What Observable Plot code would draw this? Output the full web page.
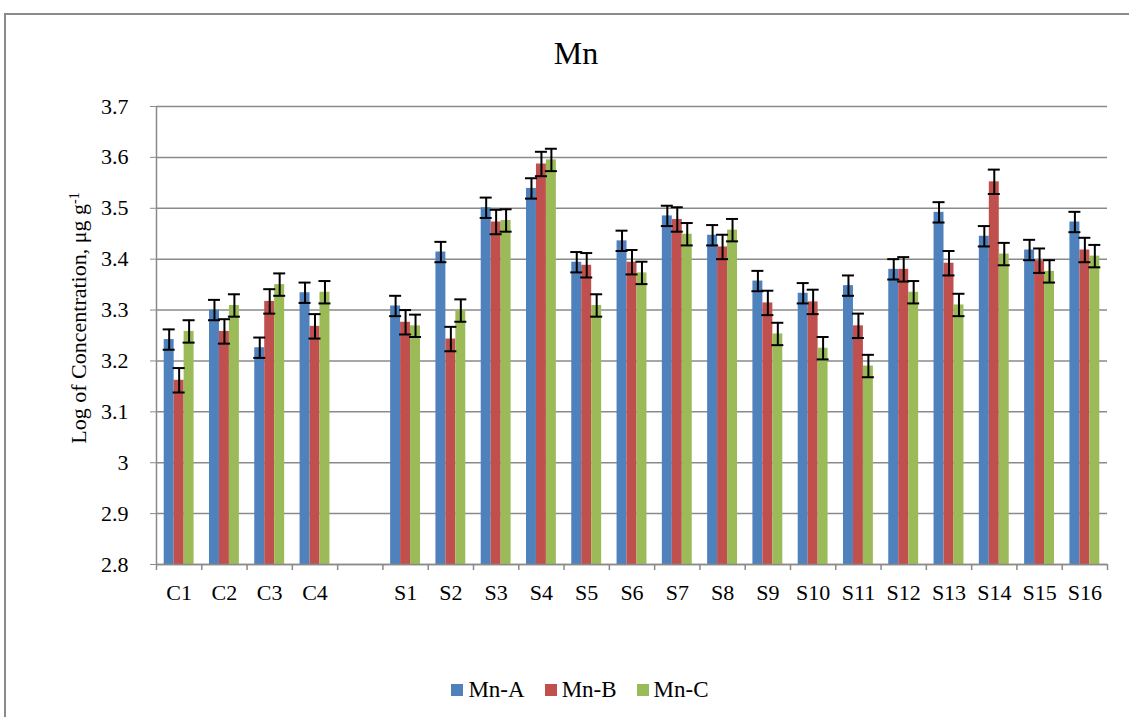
<!DOCTYPE html>
<html><head><meta charset="utf-8">
<script src="https://cdn.jsdelivr.net/npm/d3@7"></script>
<script src="https://cdn.jsdelivr.net/npm/@observablehq/plot@0.6"></script>
<style>
html,body{margin:0;padding:0;background:#fff;overflow:hidden;}
#wrap{position:relative;width:1129px;height:717px;font-family:"Liberation Serif","Times New Roman",serif;color:#000;}
#frame{position:absolute;left:4px;top:13px;width:1200px;height:800px;border:2px solid #8a8a8a;box-sizing:border-box;}
#title{position:absolute;left:0;width:1152px;top:37px;text-align:center;font-size:32px;line-height:32px;}
#chart{position:absolute;left:0;top:0;}
#legend{position:absolute;left:0;width:1160px;top:678px;display:flex;justify-content:center;font-size:23px;line-height:23px;}
.item{display:flex;align-items:center;margin:0 10px;}
.sw{width:12px;height:12px;margin-right:5px;}
</style></head>
<body>
<div id="wrap">
  <div id="frame"></div>
  <div id="chart"></div>
  <div id="title">Mn</div>
  <div id="legend"></div>
</div>
<script>
// ---- data ----
const controls = ["C1","C2","C3","C4"];
const samples = ["S1","S2","S3","S4","S5","S6","S7","S8","S9","S10","S11","S12","S13","S14","S15","S16"];
const categories = [...controls, ...samples];
const slots = [...controls, "", ...samples]; // blank slot between groups
const seriesNames = ["Mn-A","Mn-B","Mn-C"];
const seriesColors = ["#4F81BD","#C0504D","#9BBB59"];
const mnA = [3.242,3.300,3.226,3.334, 3.308,3.414,3.501,3.539,3.394,3.436,3.485,3.447,3.357,3.333,3.348,3.380,3.492,3.445,3.418,3.473];
const mnB = [3.162,3.258,3.317,3.268, 3.276,3.243,3.473,3.587,3.388,3.394,3.478,3.424,3.314,3.316,3.269,3.380,3.392,3.552,3.397,3.418];
const mnC = [3.258,3.309,3.350,3.335, 3.269,3.299,3.476,3.595,3.309,3.373,3.449,3.457,3.253,3.225,3.190,3.335,3.310,3.410,3.376,3.406];
const errA = [0.020,0.020,0.020,0.020, 0.020,0.020,0.020,0.020,0.020,0.020,0.020,0.020,0.020,0.020,0.020,0.020,0.020,0.020,0.020,0.020];
const errB = [0.024,0.024,0.024,0.024, 0.024,0.024,0.024,0.024,0.024,0.024,0.024,0.024,0.024,0.024,0.024,0.024,0.024,0.024,0.024,0.024];
const errC = [0.022,0.022,0.022,0.022, 0.022,0.022,0.022,0.022,0.022,0.022,0.022,0.022,0.022,0.022,0.022,0.022,0.022,0.022,0.022,0.022];
const yTicks = [2.8,2.9,3.0,3.1,3.2,3.3,3.4,3.5,3.6,3.7];

const values = [mnA, mnB, mnC];
const errors = [errA, errB, errC];
const rows = [];
seriesNames.forEach((s, i) => categories.forEach((c, j) => rows.push({cat: c, series: s, si: i, value: values[i][j], err: errors[i][j]})));

// ---- layout ----
const W = 1129, H = 717, mL = 156, mR = 22, mT = 106, mB = 153;
const bw = (W - mL - mR) / slots.length;
const barW = bw * 0.22;
const off = i => (i - 1) * barW;
const capHalf = 6;
const gray = "#8a8a8a";
const fontFam = '"Liberation Serif","Times New Roman",serif';

const marks = [
  Plot.gridY(yTicks, {stroke: gray, strokeOpacity: 1, strokeWidth: 1.5})
];
seriesNames.forEach((s, i) => {
  const d = rows.filter(r => r.si === i);
  marks.push(Plot.barY(d, {x: "cat", y1: 2.8, y2: "value", fill: seriesColors[i],
    insetLeft: bw / 2 + off(i) - barW / 2, insetRight: bw / 2 - off(i) - barW / 2}));
});
seriesNames.forEach((s, i) => {
  const d = rows.filter(r => r.si === i);
  marks.push(Plot.ruleX(d, {x: "cat", y1: r => r.value - r.err, y2: r => r.value + r.err, dx: off(i), stroke: "black", strokeWidth: 2}));
  marks.push(Plot.tickY(d, {x: "cat", y: r => r.value + r.err, stroke: "black", strokeWidth: 2,
    insetLeft: bw / 2 + off(i) - capHalf, insetRight: bw / 2 - off(i) - capHalf}));
  marks.push(Plot.tickY(d, {x: "cat", y: r => r.value - r.err, stroke: "black", strokeWidth: 2,
    insetLeft: bw / 2 + off(i) - capHalf, insetRight: bw / 2 - off(i) - capHalf}));
});
marks.push(Plot.ruleY([2.8], {stroke: gray, strokeWidth: 1.5}));
// y axis line and category boundary ticks
marks.push(Plot.ruleX([slots[0]], {x: d => d, dx: -bw / 2, y1: 2.788, y2: 3.7, stroke: gray, strokeWidth: 1.5}));
marks.push(Plot.ruleX(slots.slice(1), {x: d => d, dx: -bw / 2, y1: 2.788, y2: 2.8, stroke: gray, strokeWidth: 1.5}));
marks.push(Plot.ruleX([slots[slots.length - 1]], {x: d => d, dx: bw / 2, y1: 2.788, y2: 2.8, stroke: gray, strokeWidth: 1.5}));
marks.push(Plot.axisY(yTicks, {tickSize: 6, tickPadding: 22, stroke: gray, fill: "black", fontSize: 22, tickFormat: d => String(d), label: null}));
marks.push(Plot.axisX({tickSize: 0, tickPadding: 20, fill: "black", fontSize: 22, label: null}));

const plot = Plot.plot({
  width: W, height: H, marginLeft: mL, marginRight: mR, marginTop: mT, marginBottom: mB,
  style: {fontFamily: fontFam, fontSize: "22px", background: "transparent", overflow: "visible"},
  x: {domain: slots, padding: 0, round: false, label: null},
  y: {domain: [2.8, 3.7], label: null},
  marks
});
document.getElementById("chart").appendChild(plot);

// y-axis title with superscript
const svg = d3.select(plot);
const t = svg.append("text")
  .attr("transform", "translate(86,318) rotate(-90)")
  .attr("text-anchor", "middle")
  .attr("font-size", 22)
  .attr("font-family", fontFam)
  .attr("fill", "black");
t.append("tspan").text("Log of Concentration, μg g");
t.append("tspan").attr("dy", "-0.5em").attr("font-size", 14).text("-1");

// legend
const leg = d3.select("#legend");
seriesNames.forEach((s, i) => {
  const it = leg.append("div").attr("class", "item");
  it.append("div").attr("class", "sw").style("background", seriesColors[i]);
  it.append("span").text(s);
});
</script>
</body></html>
